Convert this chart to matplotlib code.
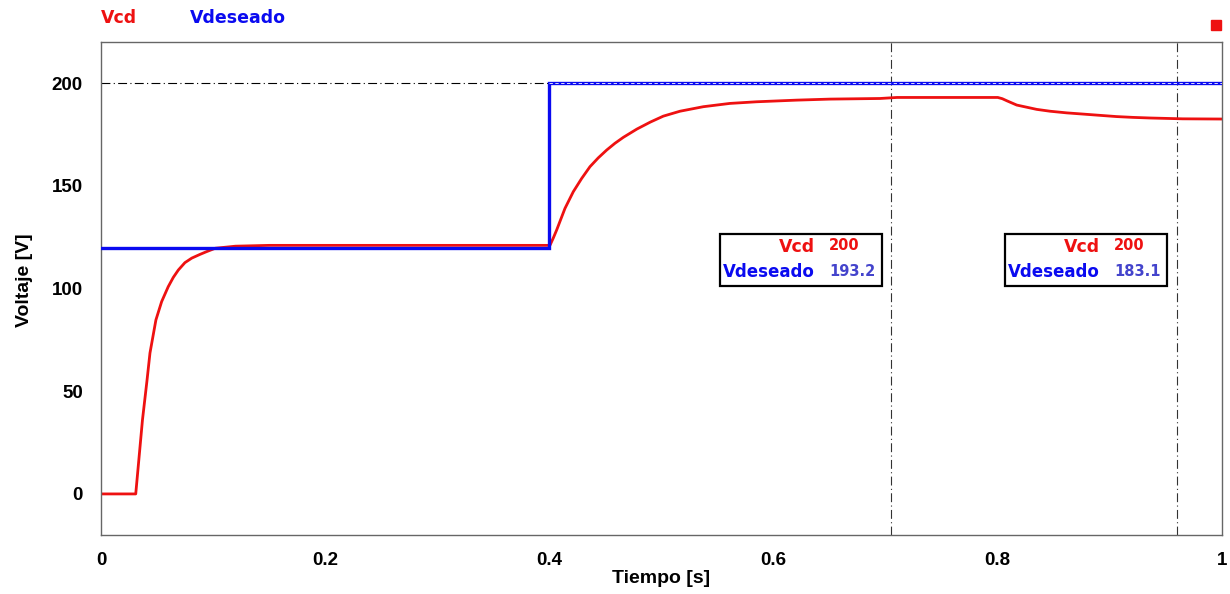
import matplotlib
matplotlib.use('Agg')
import matplotlib.pyplot as plt
from matplotlib.patches import Rectangle

# Vcd (measured dc voltage)
t_vcd = [0, 0.031, 0.034, 0.037, 0.041, 0.0437, 0.049, 0.0541, 0.060, 0.0645,
         0.069, 0.0749, 0.081, 0.0883, 0.094, 0.102, 0.12, 0.15, 0.4, 0.4005,
         0.4035, 0.4065, 0.4139, 0.4213, 0.4287, 0.4362, 0.4436, 0.4511, 0.4585,
         0.466, 0.478, 0.490, 0.5016, 0.5165, 0.5373, 0.561, 0.5849, 0.6206, 0.6503,
         0.695, 0.71, 0.8, 0.804, 0.808, 0.8169, 0.8347, 0.8466, 0.8614, 0.8763,
         0.891, 0.9058, 0.9206, 0.936, 0.965, 1.0]
v_vcd = [0, 0, 18, 36, 55, 68.6, 84.7, 93.6, 100.9, 105.4,
         109, 112.6, 114.8, 116.6, 117.9, 119.6, 120.6, 121, 121, 121,
         124.6, 128.5, 139, 147.1, 153.5, 159.3, 163.6, 167.4, 170.7,
         173.6, 177.6, 181, 183.9, 186.3, 188.5, 190.1, 190.9, 191.7, 192.2,
         192.5, 193.0, 193.0, 192.4, 191.4, 189.3, 187.2, 186.3, 185.5, 184.9,
         184.3, 183.7, 183.3, 183.0, 182.6, 182.5]

# Vdeseado (reference)
t_des = [0, 0.4, 0.4, 1.0]
v_des = [119.5, 119.5, 200, 200]

cursor_t = [0.705, 0.960]
cursor_vals = [('200', '193.2'), ('200', '183.1')]

yticks = [0, 50, 100, 150, 200]
xticks = [0, 0.2, 0.4, 0.6, 0.8, 1.0]
xticklabels = ['0', '0.2', '0.4', '0.6', '0.8', '1']

fig = plt.figure(figsize=(12.3, 5.94), dpi=100)
ax = fig.add_axes([0.0821, 0.0993, 0.9114, 0.83])

ax.axhline(200, color='black', lw=0.8, ls=(0, (8, 3, 1, 3)), zorder=1)
for tc in cursor_t:
    ax.axvline(tc, color='#333333', lw=0.8, ls=(0, (8, 3, 1, 3)), zorder=1)

ax.plot(t_des, v_des, color='#0a0af0', lw=2.4, zorder=3, solid_joinstyle='miter')
# white dashes drawn over the 200 V segment of the reference
t_hi = [t for t, v in zip(t_des, v_des) if v >= 200]
ax.plot(t_hi, [200] * len(t_hi), color='white', lw=0.6, ls=(0, (4, 3)), zorder=4)
ax.plot(t_vcd, v_vcd, color='#ee1111', lw=2.0, zorder=2)

ax.set_xlim(0, 1)
ax.set_ylim(-20, 220)
ax.set_xticks(xticks)
ax.set_xticklabels(xticklabels)
ax.set_yticks(yticks)
ax.tick_params(axis='y', length=0, pad=13, labelsize=13.5)
ax.tick_params(axis='x', length=0, pad=12, labelsize=13.5)
for lab in ax.get_xticklabels() + ax.get_yticklabels():
    lab.set_fontweight('bold')
    lab.set_fontfamily('Liberation Sans')
for sp in ax.spines.values():
    sp.set_color('#666666')
    sp.set_linewidth(1.0)

ax.set_xlabel('Tiempo [s]', fontsize=14, fontweight='bold', family='Liberation Sans', labelpad=1)
ax.set_ylabel('Voltaje [V]', fontsize=14, fontweight='bold', family='Liberation Sans')
ax.yaxis.set_label_coords(-0.0607, 0.517)

# legend names above the plot
fig.text(101 / 1230, 1 - 18 / 594, 'Vcd', color='#ee1111', fontsize=12.5,
         fontweight='bold', family='DejaVu Sans', va='center', ha='left')
fig.text(190 / 1230, 1 - 18 / 594, 'Vdeseado', color='#0a0af0', fontsize=12.5,
         fontweight='bold', family='DejaVu Sans', va='center', ha='left')
fig.patches.append(Rectangle((1211 / 1230, 1 - 30 / 594), 10 / 1230, 10 / 594,
                             transform=fig.transFigure, color='#ee1111'))

# cursor value boxes
for (x0, x1), (a, b) in zip([(720, 882), (1005, 1167)], cursor_vals):
    y0, y1 = 234, 286
    fig.patches.append(Rectangle((x0 / 1230, 1 - y1 / 594), (x1 - x0) / 1230, (y1 - y0) / 594,
                                 transform=fig.transFigure, fill=False,
                                 edgecolor='black', lw=1.6))
    xm = x0 + 95
    fig.text(xm / 1230, 1 - 247 / 594, 'Vcd', color='#ee1111', fontsize=12.5,
             fontweight='bold', family='DejaVu Sans', ha='right', va='center')
    fig.text(xm / 1230, 1 - 272 / 594, 'Vdeseado', color='#0a0af0', fontsize=12,
             fontweight='bold', family='DejaVu Sans', ha='right', va='center')
    fig.text((xm + 14) / 1230, 1 - 246 / 594, a, color='#ee1111', fontsize=10.5,
             fontweight='bold', family='DejaVu Sans', ha='left', va='center')
    fig.text((xm + 14) / 1230, 1 - 271 / 594, b, color='#4444cc', fontsize=10.5,
             fontweight='bold', family='DejaVu Sans', ha='left', va='center')

fig.savefig('out.png', dpi=100)
